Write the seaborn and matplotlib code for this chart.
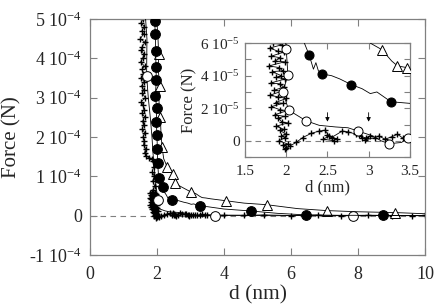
import numpy as np
import pandas as pd
import seaborn as sns
import matplotlib.pyplot as plt
from matplotlib.ticker import FuncFormatter, MultipleLocator

# forces are typed in units of 1e-5 N, distance in nm
wall_d = [1.58, 1.52, 1.62, 1.55, 1.60, 1.50, 1.64, 1.56, 1.53, 1.61, 1.57, 1.51,
          1.63, 1.55, 1.59, 1.52, 1.62, 1.54, 1.60, 1.56, 1.65, 1.53, 1.58, 1.61,
          1.55, 1.63, 1.57, 1.60, 1.56, 1.64, 1.58, 1.62, 1.60, 1.66, 1.63, 1.68,
          1.75, 1.85, 1.88, 1.90, 1.86, 1.92, 1.87, 1.93, 1.89,
          1.84, 1.95, 1.80, 1.90, 1.97, 1.82, 1.93, 1.86, 1.98, 1.79, 1.91, 1.96,
          1.83, 1.94, 1.88, 1.99, 1.81, 1.92, 1.97, 1.85, 1.95, 1.80, 1.90, 2.00,
          1.87, 1.96, 1.82, 1.93, 2.01, 1.86, 1.98, 1.90, 1.95, 2.02, 1.88, 1.97,
          1.92, 2.00, 1.94, 1.99, 1.91, 2.02, 1.96, 2.00, 1.98,
          2.05, 2.12, 2.20, 2.30, 2.40, 2.47, 2.52, 2.45, 2.58, 2.50, 2.62, 2.55,
          2.68, 2.75, 2.85, 2.92, 2.88, 2.97, 3.02, 2.95, 3.08, 3.12, 3.20, 3.28,
          3.35, 3.42, 3.50, 4.0, 4.6, 5.2, 6.0, 6.8, 7.5, 8.3, 9.0, 9.6, 10.0]
wall_f = [50, 49, 48.1, 47, 46.2, 45, 44.1, 43, 42.2, 41, 40, 39.1,
          38, 37.2, 36, 35, 34.1, 33, 32, 31.2, 30, 29, 28.1, 27,
          26, 25.2, 24, 23, 22.1, 21, 20, 19.1, 18, 17, 16, 15.2,
          14.8, 14.5, 13.8, 12.5, 11.2, 10.0, 8.8, 7.6, 6.5,
          6.0, 5.9, 5.7, 5.5, 5.45, 5.2, 5.1, 4.9, 4.85, 4.6, 4.5, 4.3,
          4.25, 4.0, 3.9, 3.8, 3.55, 3.5, 3.3, 3.1, 3.05, 2.8, 2.7, 2.6,
          2.35, 2.3, 2.1, 1.9, 1.85, 1.6, 1.5, 1.4, 1.15, 1.1, 0.9, 0.7,
          0.65, 0.4, 0.3, 0.2, 0.0, -0.2, -0.25, -0.45, -0.5,
          -0.3, -0.1, 0.2, 0.45, 0.6, 0.65, 0.3, 0.1, 0.0, 0.35, 0.1, 0.2,
          0.6, 0.55, 0.4, 0.2, 0.35, 0.15, 0.3, 0.05, 0.2, 0.3, 0.1, 0.25,
          0.4, 0.15, 0.2, 0.15, 0.1, 0.2, 0.05, 0.15, 0.0, 0.1, 0.05, 0.0, 0.1]

fc_d = [1.93, 1.95, 1.96, 1.97, 1.98, 1.95, 1.99, 1.98, 2.00, 2.01, 2.02, 2.05,
        2.18, 2.22, 2.28, 2.33, 2.36, 2.39, 2.44, 2.55, 2.65, 2.79, 2.92, 3.02,
        3.10, 3.27, 3.50, 4.00, 4.80, 5.60, 6.45, 7.50, 8.75, 10.0]
fc_f = [49.5, 46.2, 42.0, 37.8, 34.5, 30.5, 27.5, 23.8, 20.4, 17.0, 13.3, 9.7,
        7.4, 6.0, 5.25, 4.4, 4.8, 4.3, 4.1, 4.0, 3.8, 3.45, 3.2, 2.9,
        3.0, 2.4, 2.3, 1.7, 1.2, 0.6, 0.2, 0.1, 0.1, 0.0]

tr_d = [2.00, 2.03, 2.05, 2.04, 2.08, 2.06, 2.10, 2.12, 2.15, 2.20, 2.30, 2.47,
        2.54, 2.80, 3.02, 3.16, 3.28, 3.35, 3.46, 3.60, 4.06, 4.60, 5.27, 6.20,
        7.07, 8.00, 9.10, 10.0]
tr_f = [49.0, 45.0, 41.0, 37.0, 33.0, 29.0, 25.0, 21.0, 17.5, 14.5, 12.5, 10.7,
        8.2, 7.0, 6.0, 5.6, 4.9, 4.6, 4.5, 4.3, 3.8, 3.2, 2.8, 1.8,
        1.3, 1.0, 0.8, 0.5]

oc_d = [1.66, 1.70, 1.69, 1.74, 1.80, 1.85, 1.88, 1.92, 1.95, 1.98, 2.00, 2.02,
        1.96, 2.03, 2.24, 2.40, 2.60, 2.75, 2.87, 3.05, 3.15, 3.25, 3.40, 3.48,
        3.73, 4.50, 5.50, 6.50, 7.84, 9.00, 10.0]
oc_f = [50.0, 45.0, 35.6, 30.0, 25.0, 20.0, 16.0, 12.0, 9.0, 7.0, 5.65, 4.06,
        3.0, 1.88, 1.23, 0.95, 0.85, 0.8, 0.6, 0.3, 0.0, -0.18, -0.1, 0.2,
        0.05, 0.1, 0.0, 0.05, 0.0, 0.05, 0.0]

# which points carry a symbol, in the big plot and in the inset
fc_marks_main = [0, 1, 2, 3, 4, 5, 6, 7, 8, 9, 10, 11, 12, 18, 25, 28, 30, 32]
fc_marks_in = [14, 18, 21, 25]
tr_marks_main = [2, 4, 6, 8, 10, 11, 12, 14, 20, 22, 24, 26]
tr_marks_in = [15, 17, 18]
oc_marks_main = [2, 11, 24, 28]
oc_marks_in = [10, 11, 12, 13, 14, 18, 21, 23]

arrow_d = [2.5, 3.0]

sns.set_theme(style='ticks')
plt.rcParams['font.family'] = ['Liberation Serif', 'DejaVu Serif']
plt.rcParams['mathtext.fontset'] = 'custom'
plt.rcParams['mathtext.rm'] = 'Liberation Serif'
plt.rcParams['mathtext.it'] = 'Liberation Serif:italic'

GREY = '#808080'

fig = plt.figure(figsize=(4.36, 3.08), dpi=100)
ax = fig.add_axes([0.2064, 0.172, 0.7684, 0.766])
ax_in = fig.add_axes([0.562, 0.490, 0.378, 0.370])


def draw(a, marks):
    a.axhline(0, color=GREY, lw=0.8, ls=(0, (5, 4)), zorder=0)
    sns.lineplot(x=wall_d, y=np.array(wall_f) * 1e-5, ax=a, sort=False,
                 estimator=None, color='black', lw=0.6, marker='+', ms=marks['ms_w'],
                 mec='black', mew=1.0, zorder=2)
    sns.lineplot(x=tr_d, y=np.array(tr_f) * 1e-5, ax=a, sort=False,
                 estimator=None, color='black', lw=0.6, marker='^', ms=marks['ms'],
                 mfc='white', mec='black', mew=0.7, markevery=marks['tr'], zorder=3)
    sns.lineplot(x=oc_d, y=np.array(oc_f) * 1e-5, ax=a, sort=False,
                 estimator=None, color='black', lw=0.6, marker='o', ms=marks['ms'],
                 mfc='white', mec='black', mew=0.7, markevery=marks['oc'], zorder=3)
    sns.lineplot(x=fc_d, y=np.array(fc_f) * 1e-5, ax=a, sort=False,
                 estimator=None, color='black', lw=0.6, marker='o', ms=marks['ms'],
                 mfc='black', mec='black', markevery=marks['fc'], zorder=4)


draw(ax, {'tr': tr_marks_main, 'oc': oc_marks_main, 'fc': fc_marks_main,
          'ms': 7, 'ms_w': 4})
draw(ax_in, {'tr': tr_marks_in, 'oc': oc_marks_in, 'fc': fc_marks_in,
             'ms': 6.5, 'ms_w': 5})

for d in arrow_d:
    ax_in.annotate('', xy=(d, 1.0e-5), xytext=(d, 1.9e-5),
                   arrowprops=dict(arrowstyle='-|>', color='black', lw=0.6,
                                   mutation_scale=6))


def sci(exp):
    def f(v, pos):
        n = int(round(v / 10 ** exp))
        if n == 0:
            return '0'
        return f'{n} 10$^{{{exp}}}$'
    return FuncFormatter(f)


ax.set_xlim(0, 10)
ax.set_ylim(-1e-4, 5e-4)
ax.xaxis.set_major_locator(MultipleLocator(2))
ax.yaxis.set_major_locator(MultipleLocator(1e-4))
ax.yaxis.set_major_formatter(sci(-4))
ax.set_xlabel('d (nm)', fontsize=15.5)
ax.set_ylabel('Force (N)', fontsize=15)
ax.xaxis.set_label_coords(0.5, -0.13)
ax.yaxis.set_label_coords(-0.205, 0.5)
ax.tick_params(direction='in', length=5, width=0.8, color=GREY, labelsize=13,
               top=True, right=True)
ax.tick_params(axis='x', pad=8)
ax.tick_params(axis='y', pad=5.5)

ax_in.set_xlim(1.5, 3.5)
ax_in.set_ylim(-1e-5, 6e-5)
ax_in.xaxis.set_major_locator(MultipleLocator(0.5))
ax_in.yaxis.set_major_locator(MultipleLocator(2e-5))
ax_in.yaxis.set_minor_locator(MultipleLocator(1e-5))
ax_in.yaxis.set_major_formatter(sci(-5))
ax_in.xaxis.set_major_formatter(FuncFormatter(lambda v, p: f'{v:g}'))
ax_in.set_xlabel('d (nm)', fontsize=12, labelpad=1)
ax_in.set_ylabel('Force (N)', fontsize=12, labelpad=2)
ax_in.tick_params(which='both', direction='in', length=4, width=0.8, color=GREY,
                  labelsize=11, top=True, right=True)
ax_in.tick_params(axis='x', pad=6)
ax_in.tick_params(axis='y', pad=3.5)

for a in (ax, ax_in):
    for s in a.spines.values():
        s.set_color(GREY)
        s.set_linewidth(0.9)

fig.savefig('out.png', dpi=100)
